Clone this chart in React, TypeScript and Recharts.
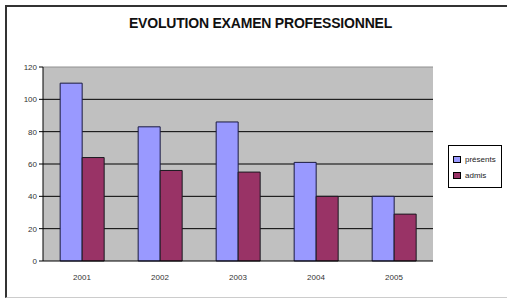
import {BarChart, Bar, XAxis, YAxis, CartesianGrid, Legend, ReferenceLine} from "recharts";

const years = ["2001", "2002", "2003", "2004", "2005"];
const presents = [110, 83, 86, 61, 40];
const admis = [64, 56, 55, 40, 29];
const yTicks = [0, 20, 40, 60, 80, 100, 120];
const seriesNames = ["présents", "admis"];
const seriesColors = ["#9999FF", "#993366"];

const data = years.map((year, i) => ({year, presents: presents[i], admis: admis[i]}));

const font = "'Liberation Sans', Arial, sans-serif";

const LegendBox = () => (
  <div style={{border: "1px solid #000", background: "#fff", width: 54, padding: "5px 0 4px 4px", boxSizing: "border-box"}}>
    {seriesNames.map((name, i) => (
      <div key={name} style={{display: "flex", alignItems: "center", height: 16, fontFamily: font, fontSize: 8, color: "#222"}}>
        <span style={{width: 6, height: 5, background: seriesColors[i], border: "1px solid #000", marginRight: 4}} />
        {name}
      </div>
    ))}
  </div>
);

const App = () => {
  return (
    <div style={{position: "absolute", left: 0, top: 0, width: 507, height: 300, background: "#fff"}}>
      <div style={{position: "absolute", left: 5, top: 5, width: 502, height: 293, borderLeft: "2px solid #333", borderTop: "2px solid #333", borderBottom: "1px solid #ccc", boxSizing: "border-box"}} />
      <div style={{position: "absolute", left: 0, top: 15, width: 521, textAlign: "center", fontFamily: font, fontWeight: "bold", fontSize: 14, letterSpacing: -0.2, color: "#111"}}>
        EVOLUTION EXAMEN PROFESSIONNEL
      </div>
      <BarChart width={507} height={300} data={data} margin={{top: 67, right: 74, bottom: 22, left: 5}} barGap={0} barCategoryGap="22%">
        <CartesianGrid fill="#C0C0C0" stroke="#000" vertical={false} horizontalValues={[20, 40, 60, 80, 100]} fillOpacity={1} />
        <ReferenceLine y={120} stroke="#909090" />
        <XAxis dataKey="year" stroke="#000" tickLine={false} tick={{fontSize: 8, fill: "#333", fontFamily: font}} tickMargin={7} height={17} />
        <YAxis domain={[0, 120]} ticks={yTicks} stroke="#000" width={38} tickSize={4} tick={{fontSize: 8, fill: "#333", fontFamily: font}} />
        <YAxis yAxisId="r" orientation="right" width={0} tick={false} tickLine={false} stroke="#909090" domain={[0, 120]} />
        <Legend layout="vertical" align="center" verticalAlign="middle" wrapperStyle={{left: 448, top: 145, width: 54}} content={<LegendBox />} />
        <Bar dataKey="presents" name={seriesNames[0]} fill={seriesColors[0]} stroke="#1a1a40" strokeWidth={1} isAnimationActive={false} />
        <Bar dataKey="admis" name={seriesNames[1]} fill={seriesColors[1]} stroke="#1a1a20" strokeWidth={1} isAnimationActive={false} />
      </BarChart>
    </div>
  );
};

export default App;
